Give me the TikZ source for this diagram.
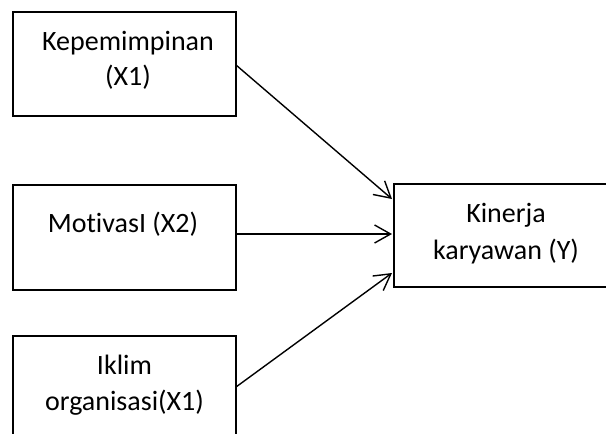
\documentclass[tikz,border=0pt]{standalone}
\usepackage{fontspec}
\setmainfont[Ligatures=NoCommon]{Carlito}
\usetikzlibrary{arrows.meta,calc}
\tikzset{
  box/.style={draw=black,line width=1.6pt,inner sep=0pt,outer sep=0pt,rectangle},
  lbl/.style={anchor=base,inner sep=0pt,font=\fontsize{28pt}{34pt}\selectfont},
  conn/.style={draw=black,line width=1.4pt,-{Straight Barb[length=16pt,width=18pt]}}
}
\begin{document}
\begin{tikzpicture}[x=1pt,y=-1pt]
\clip (0,0) rectangle (606,434);
\fill[white] (0,0) rectangle (606,434);
% boxes
\node[box,minimum width=223pt,minimum height=104pt] (b1) at (124.5,64) {};
\node[box,minimum width=223pt,minimum height=105pt] (b2) at (124.5,237.5) {};
\node[box,minimum width=223pt,minimum height=104pt] (b3) at (124.5,388) {};
\node[box,minimum width=226pt,minimum height=103pt] (yb) at (507,235.5) {};
% texts
\node[lbl] (t1a) at (128,50) {Kepemimpinan};
\node[lbl] (t1b) at (128,85) {(X1)};
\node[lbl] (t2) at (123,232) {MotivasI (X2)};
\node[lbl] (t3a) at (124.5,374) {Iklim};
\node[lbl] (t3b) at (124.5,410) {organisasi(X1)};
\node[lbl] (tya) at (506,222) {Kinerja};
\node[lbl] (tyb) at (506,259) {karyawan (Y)};
% arrow targets
\coordinate (e1) at ($(yb.north west)+(-2,15)$);
\coordinate (e2) at ($(yb.west)+(-2,-1.5)$);
\coordinate (e3) at ($(yb.north west)+(-2,89)$);
\coordinate (s1) at ($(b1.east)+(0,1)$);
\coordinate (s2) at ($(b2.east)+(0,-3.5)$);
\coordinate (s3) at ($(b3.east)+(0,-1)$);
\draw[conn] (s1) -- (e1);
\draw[conn] (s2) -- (e2);
\draw[conn] (s3) -- (e3);
\end{tikzpicture}
\end{document}
